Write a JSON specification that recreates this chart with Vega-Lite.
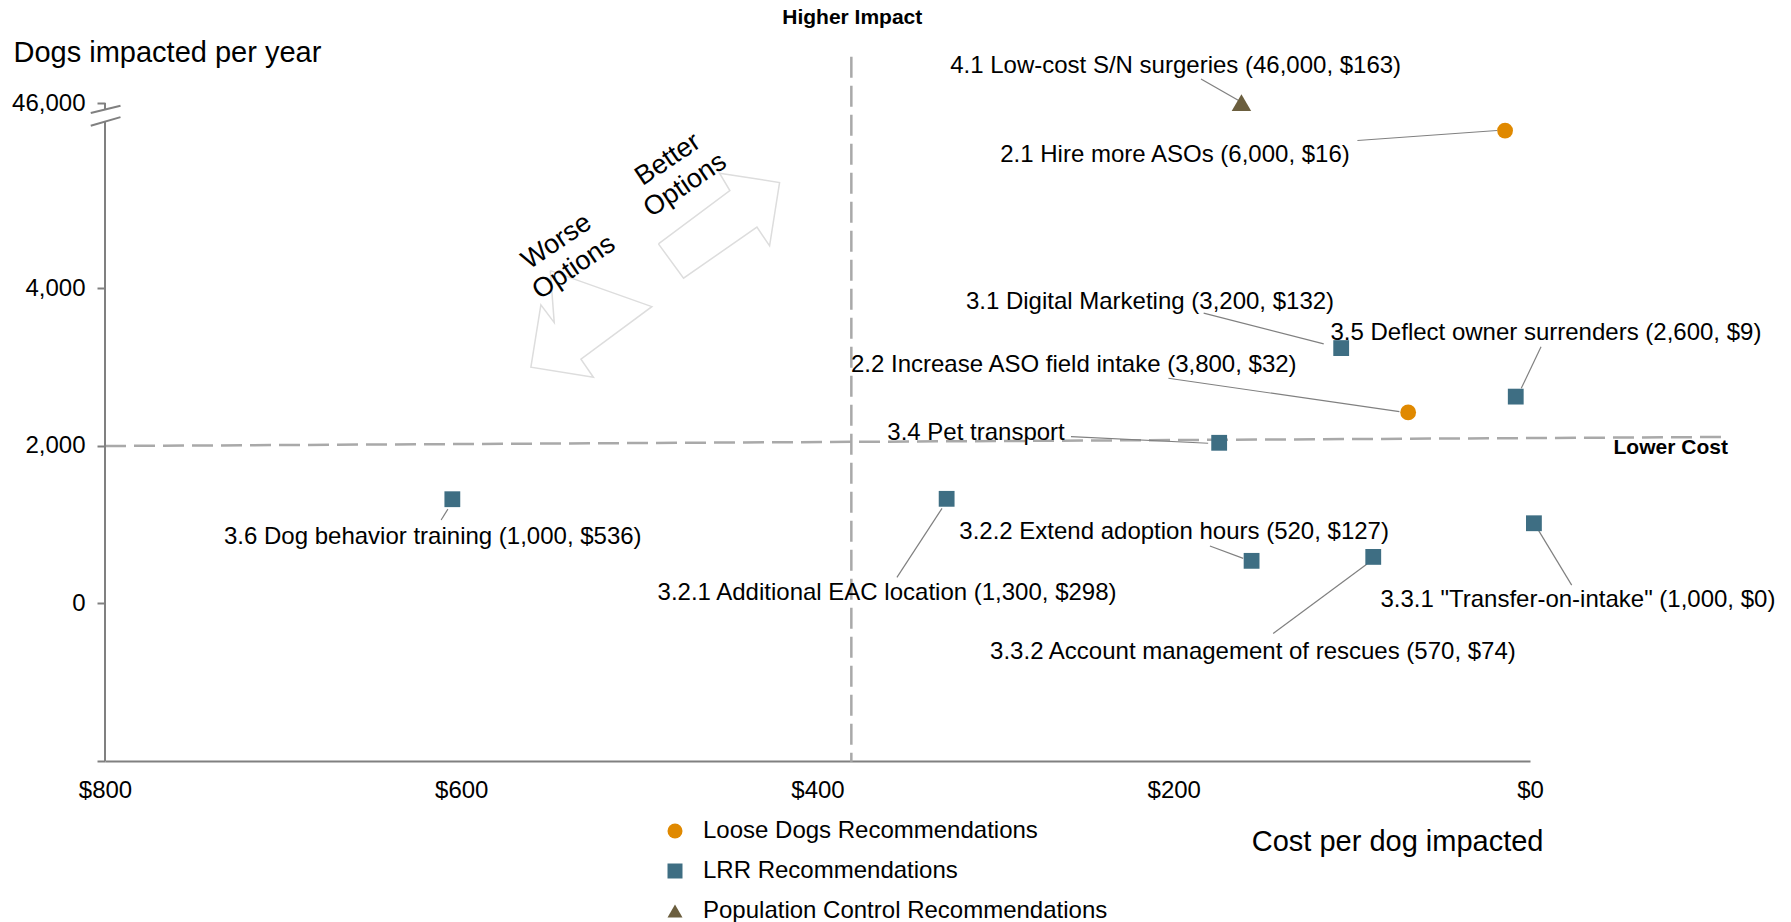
{
  "$schema": "https://vega.github.io/schema/vega-lite/v6.json",
  "width": 1425,
  "height": 658,
  "autosize": {"type": "none"},
  "padding": {"left": 105, "top": 103, "right": 261, "bottom": 161},
  "background": "white",
  "config": {"view": {"stroke": null}, "font": "Liberation Sans"},
  "datasets": {
    "points": [
      {"name": "4.1", "group": "Population Control Recommendations", "cost": 162, "dogs": 6355},
      {"name": "2.1", "group": "Loose Dogs Recommendations", "cost": 14, "dogs": 6000},
      {"name": "2.2", "group": "Loose Dogs Recommendations", "cost": 68.4, "dogs": 2423},
      {"name": "3.1", "group": "LRR Recommendations", "cost": 106, "dogs": 3240},
      {"name": "3.5", "group": "LRR Recommendations", "cost": 8, "dogs": 2624},
      {"name": "3.4", "group": "LRR Recommendations", "cost": 174.5, "dogs": 2038},
      {"name": "3.6", "group": "LRR Recommendations", "cost": 605, "dogs": 1322},
      {"name": "3.2.1", "group": "LRR Recommendations", "cost": 327.5, "dogs": 1327},
      {"name": "3.2.2", "group": "LRR Recommendations", "cost": 156.3, "dogs": 540},
      {"name": "3.3.2", "group": "LRR Recommendations", "cost": 88, "dogs": 590},
      {"name": "3.3.1", "group": "LRR Recommendations", "cost": -2.2, "dogs": 1017}
    ],
    "labels": [
      {"text": "4.1 Low-cost S/N surgeries (46,000, $163)", "cost": 325.5, "dogs": 6814},
      {"text": "2.1 Hire more ASOs (6,000, $16)", "cost": 297.4, "dogs": 5693},
      {"text": "3.1 Digital Marketing (3,200, $132)", "cost": 316.7, "dogs": 3830},
      {"text": "3.5 Deflect owner surrenders (2,600, $9)", "cost": 112, "dogs": 3429},
      {"text": "2.2 Increase ASO field intake (3,800, $32)", "cost": 381.2, "dogs": 3026},
      {"text": "3.4 Pet transport", "cost": 360.8, "dogs": 2159},
      {"text": "3.6 Dog behavior training (1,000, $536)", "cost": 733.2, "dogs": 846},
      {"text": "3.2.1 Additional EAC location (1,300, $298)", "cost": 489.8, "dogs": 127},
      {"text": "3.2.2 Extend adoption hours (520, $127)", "cost": 320.4, "dogs": 909},
      {"text": "3.3.1 \"Transfer-on-intake\" (1,000, $0)", "cost": 84, "dogs": 42},
      {"text": "3.3.2 Account management of rescues (570, $74)", "cost": 303.1, "dogs": -615}
    ],
    "leaders": [
      {"name": "4.1", "cost": 184.7, "dogs": 6654, "cost2": 162.6, "dogs2": 6369},
      {"name": "2.1", "cost": 96.9, "dogs": 5874, "cost2": 18.5, "dogs2": 6001},
      {"name": "3.1", "cost": 183.2, "dogs": 3683, "cost2": 115.8, "dogs2": 3294},
      {"name": "3.5", "cost": -6.2, "dogs": 3258, "cost2": 4.9, "dogs2": 2730},
      {"name": "2.2", "cost": 203, "dogs": 2857, "cost2": 73.3, "dogs2": 2433},
      {"name": "3.4", "cost": 257.7, "dogs": 2116, "cost2": 180.7, "dogs2": 2032},
      {"name": "3.6", "cost": 611.3, "dogs": 1058, "cost2": 607.5, "dogs2": 1197},
      {"name": "3.2.1", "cost": 355.4, "dogs": 330, "cost2": 330.1, "dogs2": 1206},
      {"name": "3.2.2", "cost": 179.7, "dogs": 728, "cost2": 161, "dogs2": 571},
      {"name": "3.3.1", "cost": -23.4, "dogs": 232, "cost2": -3, "dogs2": 994},
      {"name": "3.3.2", "cost": 144.2, "dogs": -381, "cost2": 91.5, "dogs2": 499}
    ],
    "refs": [
      {"line": "cost", "cost": 381, "dogs": 6937, "cost2": 381, "dogs2": -2010},
      {"line": "impact", "cost": 800, "dogs": 1997, "cost2": -110, "dogs2": 2112}
    ],
    "axisParts": [
      {"part": "main", "cost": 800, "dogs": -2000, "cost2": 800, "dogs2": 6112},
      {"part": "top", "cost": 800, "dogs": 6262, "cost2": 800, "dogs2": 6350},
      {"part": "break1", "cost": 808, "dogs": 6222, "cost2": 791.3, "dogs2": 6315},
      {"part": "break2", "cost": 808, "dogs": 6061, "cost2": 791.3, "dogs2": 6171}
    ],
    "arrows": [
      {"arrow": "better", "ord": 1, "cost": 489.3, "dogs": 4562},
      {"arrow": "better", "ord": 2, "cost": 449.2, "dogs": 5239},
      {"arrow": "better", "ord": 3, "cost": 455.0, "dogs": 5460},
      {"arrow": "better", "ord": 4, "cost": 421.3, "dogs": 5341},
      {"arrow": "better", "ord": 5, "cost": 426.9, "dogs": 4537},
      {"arrow": "better", "ord": 6, "cost": 434.0, "dogs": 4775},
      {"arrow": "better", "ord": 7, "cost": 475.2, "dogs": 4127},
      {"arrow": "better", "ord": 8, "cost": 489.3, "dogs": 4562},
      {"arrow": "worse", "ord": 1, "cost": 550.0, "dogs": 4223},
      {"arrow": "worse", "ord": 2, "cost": 493.0, "dogs": 3766},
      {"arrow": "worse", "ord": 3, "cost": 532.8, "dogs": 3098},
      {"arrow": "worse", "ord": 4, "cost": 525.8, "dogs": 2870},
      {"arrow": "worse", "ord": 5, "cost": 560.9, "dogs": 2997},
      {"arrow": "worse", "ord": 6, "cost": 555.3, "dogs": 3788},
      {"arrow": "worse", "ord": 7, "cost": 547.8, "dogs": 3563},
      {"arrow": "worse", "ord": 8, "cost": 550.0, "dogs": 4223}
    ],
    "arrowText": [
      {"text": "Better\nOptions", "cost": 484, "dogs": 5633},
      {"text": "Worse\nOptions", "cost": 546.5, "dogs": 4590}
    ],
    "quadrants": [
      {"text": "Higher Impact", "cost": 419.8, "dogs": 7432},
      {"text": "Lower Cost", "cost": -46.9, "dogs": 1976}
    ]
  },
  "encoding": {
    "x": {
      "field": "cost", "type": "quantitative",
      "scale": {"domain": [0, 800], "reverse": true, "nice": false, "zero": false},
      "axis": {
        "values": [800, 600, 400, 200, 0],
        "labelExpr": "'$' + datum.label",
        "grid": false, "ticks": false,
        "domain": true, "domainColor": "#808080", "domainWidth": 2,
        "labelFont": "Liberation Sans", "labelFontSize": 24, "labelColor": "#000000",
        "labelBaseline": "middle", "labelPadding": 29, "labelOverlap": false, "labelFlush": false,
        "title": "Cost per dog impacted",
        "titleFont": "Liberation Sans", "titleFontSize": 29, "titleFontWeight": "normal", "titleColor": "#000000",
        "titleAlign": "right", "titleBaseline": "middle",
        "titleX": 1438, "titleY": 80
      }
    },
    "y": {
      "field": "dogs", "type": "quantitative",
      "scale": {"domain": [-2000, 6350], "nice": false, "zero": false},
      "axis": {
        "values": [-2000, 0, 2000, 4000, 6350],
        "labelExpr": "datum.value == 6350 ? '46,000' : (datum.value == -2000 ? '' : format(datum.value, ','))",
        "grid": false, "domain": false,
        "ticks": true, "tickSize": 8, "tickColor": "#808080", "tickWidth": 2,
        "labelFont": "Liberation Sans", "labelFontSize": 24, "labelColor": "#000000",
        "labelPadding": 12, "labelOverlap": false, "labelFlush": false, "labelBound": false,
        "title": "Dogs impacted per year",
        "titleFont": "Liberation Sans", "titleFontSize": 29, "titleFontWeight": "normal", "titleColor": "#000000",
        "titleAngle": 0, "titleAlign": "left", "titleBaseline": "middle",
        "titleX": -92, "titleY": -51
      }
    }
  },
  "layer": [
    {
      "data": {"name": "arrows"},
      "mark": {"type": "line", "color": "#dddddd", "strokeWidth": 1.5},
      "encoding": {
        "detail": {"field": "arrow"},
        "order": {"field": "ord", "type": "quantitative"}
      }
    },
    {
      "data": {"name": "arrowText"},
      "mark": {"type": "text", "fontSize": 27, "angle": 326, "align": "center", "baseline": "middle", "lineBreak": "\n", "lineHeight": 31, "color": "#000000"},
      "encoding": {
        "text": {"field": "text"}
      }
    },
    {
      "data": {"name": "refs"},
      "mark": {"type": "rule", "color": "#a9a9a9", "strokeWidth": 2.5, "strokeDash": [21, 8]},
      "encoding": {
        "x2": {"field": "cost2"},
        "y2": {"field": "dogs2"}
      }
    },
    {
      "data": {"name": "axisParts"},
      "mark": {"type": "rule", "color": "#808080", "strokeWidth": 2},
      "encoding": {
        "x2": {"field": "cost2"},
        "y2": {"field": "dogs2"}
      }
    },
    {
      "data": {"name": "leaders"},
      "mark": {"type": "rule", "color": "#808080", "strokeWidth": 1.2},
      "encoding": {
        "x2": {"field": "cost2"},
        "y2": {"field": "dogs2"}
      }
    },
    {
      "data": {"name": "labels"},
      "mark": {"type": "text", "fontSize": 24, "align": "left", "baseline": "middle", "color": "#000000"},
      "encoding": {
        "text": {"field": "text"}
      }
    },
    {
      "data": {"name": "quadrants"},
      "mark": {"type": "text", "fontSize": 21, "fontWeight": "bold", "align": "left", "baseline": "middle", "color": "#000000"},
      "encoding": {
        "text": {"field": "text"}
      }
    },
    {
      "data": {"name": "points"},
      "mark": {"type": "point", "filled": true, "opacity": 1},
      "encoding": {
        "color": {
          "field": "group", "type": "nominal",
          "scale": {"domain": ["Loose Dogs Recommendations", "LRR Recommendations", "Population Control Recommendations"], "range": ["#e08900", "#3e6e83", "#6b5e3e"]},
          "legend": {"title": null, "orient": "none", "legendX": 558, "legendY": 716, "direction": "vertical", "padding": 0, "symbolSize": 225, "labelFont": "Liberation Sans", "labelFontSize": 24, "labelColor": "#000000", "labelOffset": 16, "labelLimit": 0, "rowPadding": 16, "symbolStrokeWidth": 0}
        },
        "shape": {
          "field": "group", "type": "nominal",
          "scale": {"domain": ["Loose Dogs Recommendations", "LRR Recommendations", "Population Control Recommendations"], "range": ["circle", "square", "triangle-up"]},
          "legend": {"title": null, "orient": "none", "legendX": 558, "legendY": 716, "direction": "vertical", "padding": 0, "symbolSize": 225, "labelFont": "Liberation Sans", "labelFontSize": 24, "labelColor": "#000000", "labelOffset": 16, "labelLimit": 0, "rowPadding": 16, "symbolStrokeWidth": 0}
        },
        "size": {"condition": {"test": "datum.group == 'Population Control Recommendations'", "value": 380}, "value": 250}
      }
    }
  ]
}
